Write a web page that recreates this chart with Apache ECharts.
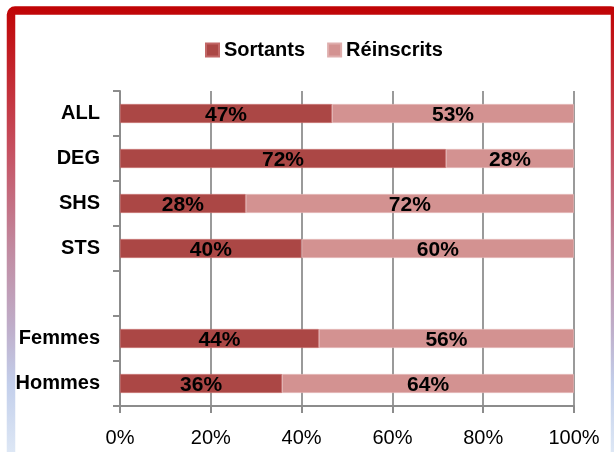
<!DOCTYPE html>
<html>
<head>
<meta charset="utf-8">
<script src="https://cdn.jsdelivr.net/npm/echarts@6/dist/echarts.min.js"></script>
<style>
html,body{margin:0;padding:0;background:#fff;}
#c{width:614px;height:452px;}
</style>
</head>
<body>
<div id="c"></div>
<script>
var categories = ['ALL', 'DEG', 'SHS', 'STS', '', 'Femmes', 'Hommes'];
var sortants   = [46.7, 71.8, 27.7, 40.0, null, 43.8, 35.7];
var reinscrits = [53.3, 28.2, 72.3, 60.0, null, 56.2, 64.3];
var seriesNames = ['Sortants', 'Réinscrits'];
var xTicks = [0, 20, 40, 60, 80, 100];

var FONT = '"Liberation Sans", Arial, sans-serif';
var chart = echarts.init(document.getElementById('c'), null, {renderer: 'canvas'});

function labelCfg() {
  return {
    show: true,
    position: 'inside',
    offset: [0, 2],
    color: '#000',
    fontFamily: FONT,
    fontSize: 21,
    fontWeight: 'bold',
    formatter: function (p) { return p.value == null ? '' : Math.round(p.value) + '%'; }
  };
}

chart.setOption({
  backgroundColor: '#fff',
  animation: false,
  textStyle: {fontFamily: FONT},
  graphic: [{
    type: 'rect',
    shape: {x: 11, y: 10.5, width: 604, height: 520, r: 4},
    style: {
      fill: 'none',
      lineWidth: 8.5,
      stroke: new echarts.graphic.LinearGradient(0, 0, 0, 452, [
        {offset: 0, color: '#C00000'},
        {offset: 0.33, color: '#C65060'},
        {offset: 0.55, color: '#C18AA0'},
        {offset: 0.73, color: '#BFAFCB'},
        {offset: 0.85, color: '#C3CFEB'},
        {offset: 1, color: '#DDE7F5'}
      ], true)
    },
    z: 100
  }],
  legend: {
    top: 35,
    left: 200,
    itemWidth: 13,
    itemHeight: 13,
    itemGap: 22,
    icon: 'rect',
    textStyle: {fontFamily: FONT, fontSize: 20, fontWeight: 'bold', color: '#000'},
    data: seriesNames
  },
  grid: {left: 120, right: 40, top: 91, bottom: 46, containLabel: false},
  xAxis: {
    type: 'value',
    min: xTicks[0],
    max: xTicks[xTicks.length - 1],
    interval: 20,
    axisLine: {show: true, lineStyle: {color: '#8C8C8C', width: 2}},
    axisTick: {show: true, length: 7, lineStyle: {color: '#8C8C8C', width: 2}},
    splitLine: {show: true, lineStyle: {color: '#9A9A9A', width: 2}},
    axisLabel: {
      margin: 22,
      color: '#000',
      fontFamily: FONT,
      fontSize: 20,
      formatter: '{value}%'
    }
  },
  yAxis: {
    type: 'category',
    inverse: true,
    data: categories,
    axisLine: {show: true, lineStyle: {color: '#8C8C8C', width: 2}},
    axisTick: {show: true, length: 7, lineStyle: {color: '#8C8C8C', width: 2}},
    axisLabel: {
      margin: 20,
      color: '#000',
      fontFamily: FONT,
      fontSize: 20,
      fontWeight: 'bold'
    }
  },
  series: [{
    name: seriesNames[0],
    type: 'bar',
    stack: 'total',
    barWidth: 19,
    data: sortants,
    itemStyle: {color: '#AB4745', borderColor: '#C26766', borderWidth: 0.8},
    label: labelCfg()
  }, {
    name: seriesNames[1],
    type: 'bar',
    stack: 'total',
    barWidth: 19,
    data: reinscrits,
    itemStyle: {color: '#D39291', borderColor: '#DFAEAD', borderWidth: 0.8},
    label: labelCfg()
  }]
});
</script>
</body>
</html>
